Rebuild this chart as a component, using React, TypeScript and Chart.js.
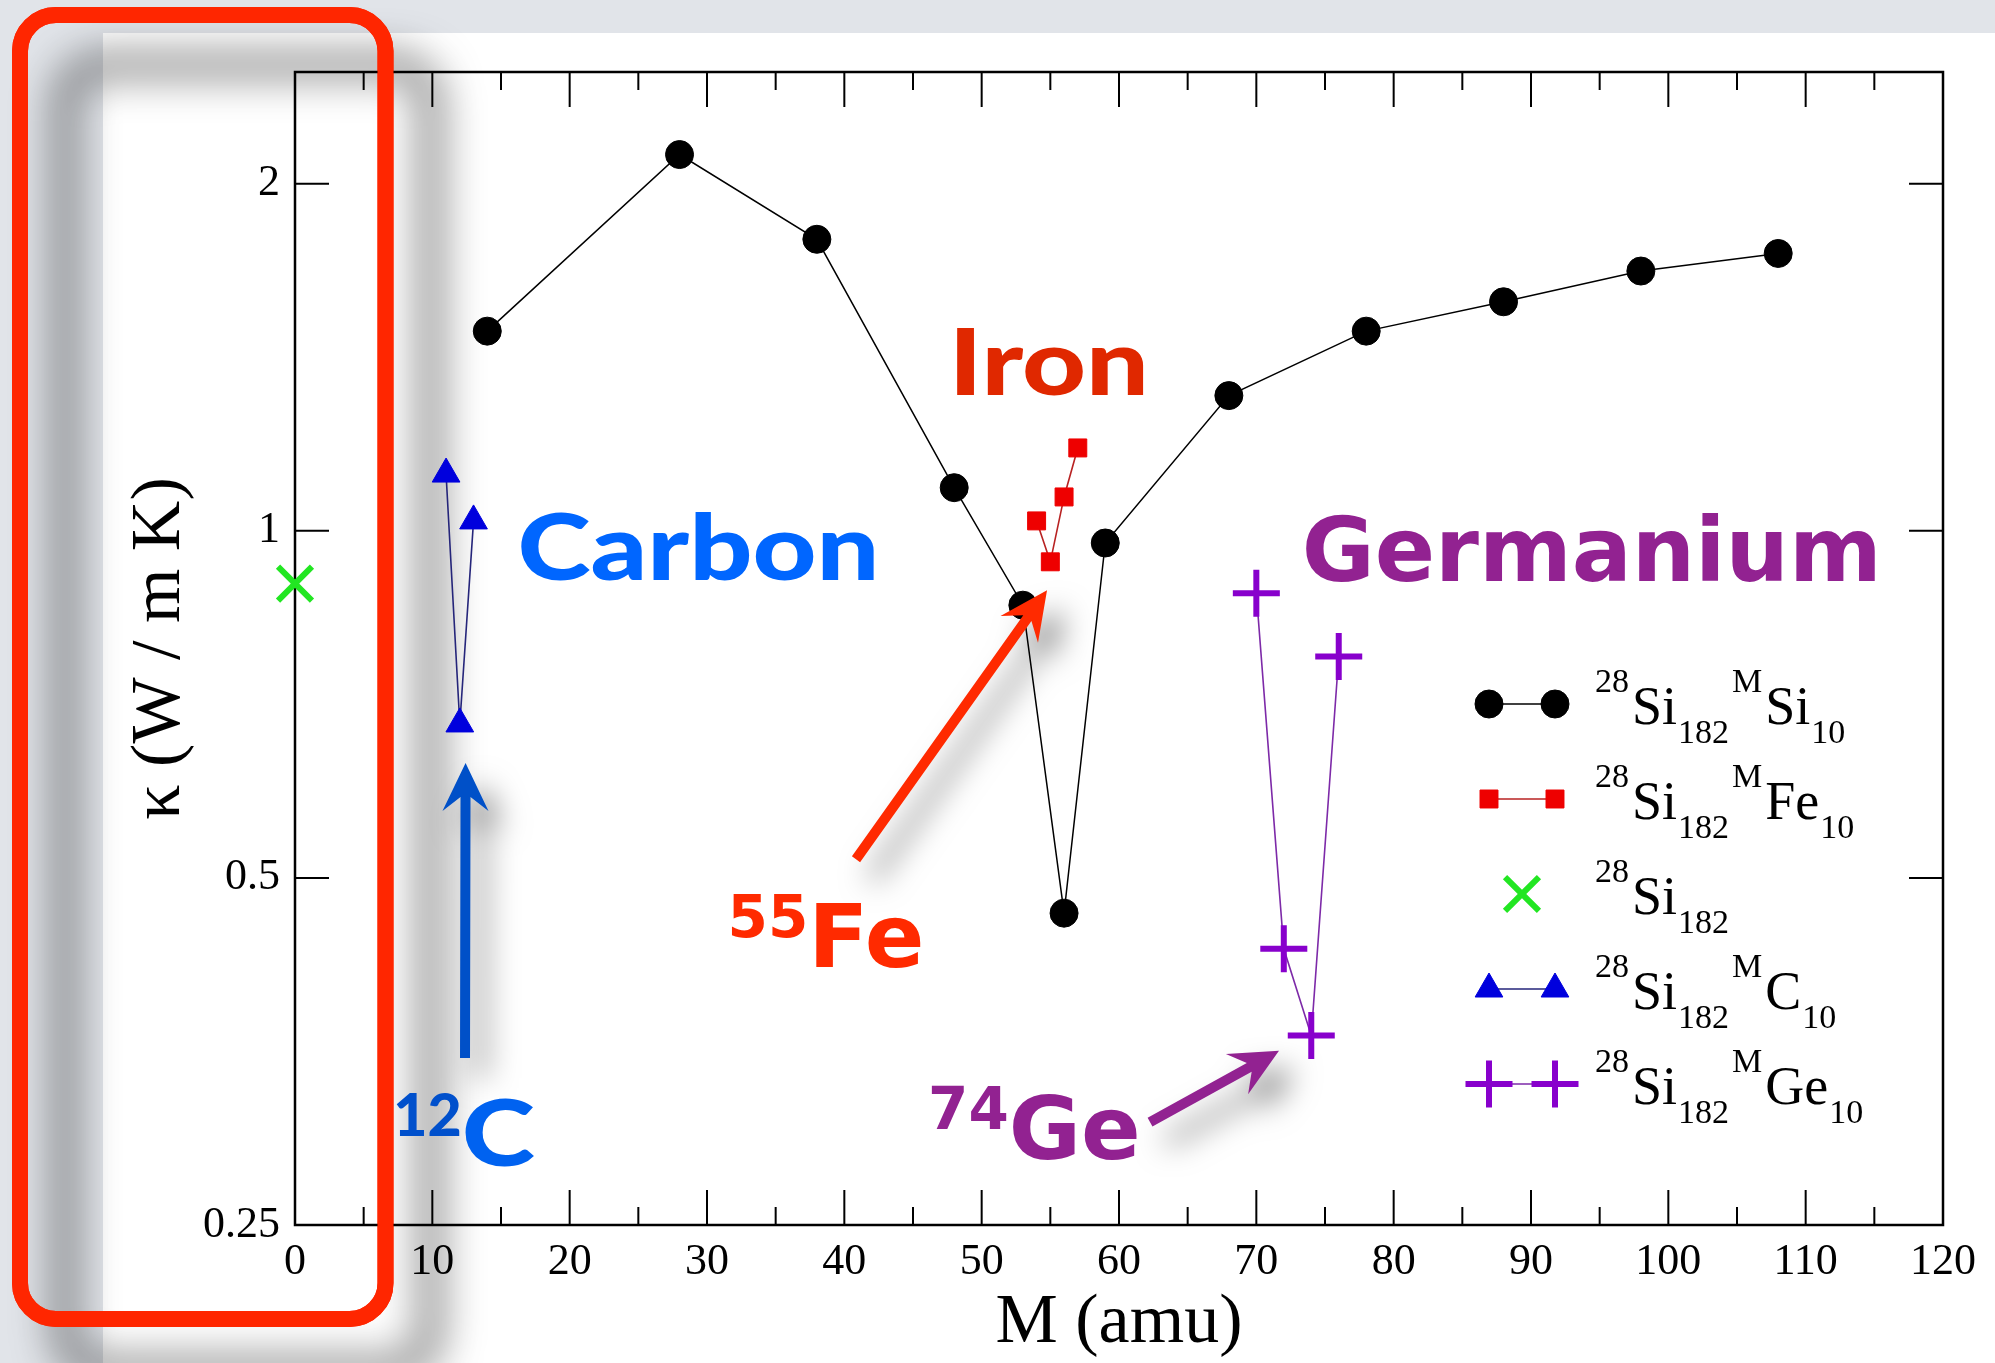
import React, { useEffect, useRef } from "react";
import { Chart, registerables } from "chart.js";

Chart.register(...registerables);

// ---------------- data ----------------
const siMass = [14, 28, 38, 48, 53, 56, 59, 68, 78, 88, 98, 108];
const siKappa = [1.49, 2.12, 1.79, 1.09, 0.862, 0.466, 0.976, 1.31, 1.49, 1.58, 1.68, 1.74];

const feMass = [54, 55, 56, 57];
const feKappa = [1.02, 0.94, 1.07, 1.18];

const pureMass = [0];
const pureKappa = [0.9];

const cMass = [11, 12, 13];
const cKappa = [1.12, 0.68, 1.02];

const geMass = [70, 72, 74, 76];
const geKappa = [0.883, 0.434, 0.365, 0.778];

const xMajorTicks = [0, 10, 20, 30, 40, 50, 60, 70, 80, 90, 100, 110, 120];
const xMinorTicks = [5, 15, 25, 35, 45, 55, 65, 75, 85, 95, 105, 115];
const yTicks = [0.25, 0.5, 1, 2];
const yTickLabels = ["0.25", "0.5", "1", "2"];

const legendLabels = [
  ["28", "Si", "182", "M", "Si", "10"],
  ["28", "Si", "182", "M", "Fe", "10"],
  ["28", "Si", "182"],
  ["28", "Si", "182", "M", "C", "10"],
  ["28", "Si", "182", "M", "Ge", "10"],
];

// ---------------- styles ----------------
const X_MIN = 0, X_MAX = 120, Y_MIN = 0.25, Y_MAX = 2.5;
const W = 1995, H = 1363;
const SERIF = '"Liberation Serif", "Times New Roman", serif';
const GILL = 'Lato, "Noto Sans", sans-serif';
const VERA = '"DejaVu Sans", sans-serif';

type SeriesStyle = {
  point: string; r: number; fill: string; stroke: string; pbw: number;
  line: string; lw: number; showLine: boolean;
};
const styles: SeriesStyle[] = [
  { point: "circle", r: 14, fill: "#000000", stroke: "#000000", pbw: 1, line: "#000000", lw: 1.5, showLine: true },
  { point: "rect", r: 12.7, fill: "#ee0000", stroke: "#ee0000", pbw: 1, line: "#b82222", lw: 1.6, showLine: true },
  { point: "crossRot", r: 24, fill: "#22e622", stroke: "#22e622", pbw: 6, line: "#22e622", lw: 0, showLine: false },
  { point: "triangle", r: 16, fill: "#0000dd", stroke: "#0000dd", pbw: 1, line: "#25257a", lw: 1.6, showLine: true },
  { point: "cross", r: 23.5, fill: "#8800cc", stroke: "#8800cc", pbw: 6, line: "#7d2aa8", lw: 1.6, showLine: true },
];

// annotations anchored in data coordinates (x in amu, y in W/mK)
const annotations = [
  { main: "Carbon", x: 16.2, y: 0.906, color: "#0066ff", family: GILL, weight: 900, size: 92, stretch: true },
  { main: "Iron", x: 47.6, y: 1.311, color: "#e02800", family: GILL, weight: 900, size: 92, stretch: true },
  { main: "Germanium", x: 73.3, y: 0.905, color: "#922291", family: VERA, weight: 700, size: 89 },
  { sup: "55", main: "Fe", x: 31.5, y: 0.4185, color: "#ff2a00", family: VERA, weight: 700, size: 88, supSize: 58 },
  { sup: "74", main: "Ge", x: 46.1, y: 0.2853, color: "#922291", family: VERA, weight: 700, size: 88, supSize: 58 },
  { sup: "12", main: "C", x: 7.15, y: 0.2813, color: "#0062f0", supColor: "#0050cc", family: GILL, weight: 900, size: 92, supSize: 59, stretch: true },
];
// reference width of the word "Carbon" used to widen the humanist sans to Gill Sans proportions
const GILL_CARBON_WIDTH = 362;

const arrows = [
  { from: [40.85, 0.519], to: [54.76, 0.888], color: "#ff2a00" },
  { from: [12.38, 0.349], to: [12.42, 0.629], color: "#0050c8" },
  { from: [62.26, 0.307], to: [71.65, 0.354], color: "#922291" },
];

function drawMarker(ctx: CanvasRenderingContext2D, s: SeriesStyle, x: number, y: number) {
  const r = s.r;
  ctx.save();
  ctx.fillStyle = s.fill;
  ctx.strokeStyle = s.stroke;
  ctx.lineWidth = s.pbw;
  ctx.beginPath();
  if (s.point === "circle") {
    ctx.arc(x, y, r, 0, Math.PI * 2);
    ctx.fill();
    ctx.stroke();
  } else if (s.point === "rect") {
    const h = r * Math.SQRT1_2;
    ctx.rect(x - h, y - h, 2 * h, 2 * h);
    ctx.fill();
    ctx.stroke();
  } else if (s.point === "triangle") {
    let a = 0;
    ctx.moveTo(x + Math.sin(a) * r, y - Math.cos(a) * r);
    a += (2 * Math.PI) / 3;
    ctx.lineTo(x + Math.sin(a) * r, y - Math.cos(a) * r);
    a += (2 * Math.PI) / 3;
    ctx.lineTo(x + Math.sin(a) * r, y - Math.cos(a) * r);
    ctx.closePath();
    ctx.fill();
    ctx.stroke();
  } else if (s.point === "cross") {
    ctx.moveTo(x, y - r); ctx.lineTo(x, y + r);
    ctx.moveTo(x - r, y); ctx.lineTo(x + r, y);
    ctx.stroke();
  } else if (s.point === "crossRot") {
    const o = r * Math.SQRT1_2;
    ctx.moveTo(x - o, y - o); ctx.lineTo(x + o, y + o);
    ctx.moveTo(x - o, y + o); ctx.lineTo(x + o, y - o);
    ctx.stroke();
  }
  ctx.restore();
}

function roundRectPath(ctx: CanvasRenderingContext2D, x: number, y: number, w: number, h: number, r: number) {
  ctx.beginPath();
  ctx.moveTo(x + r, y);
  ctx.lineTo(x + w - r, y);
  ctx.arcTo(x + w, y, x + w, y + r, r);
  ctx.lineTo(x + w, y + h - r);
  ctx.arcTo(x + w, y + h, x + w - r, y + h, r);
  ctx.lineTo(x + r, y + h);
  ctx.arcTo(x, y + h, x, y + h - r, r);
  ctx.lineTo(x, y + r);
  ctx.arcTo(x, y, x + r, y, r);
  ctx.closePath();
}

function arrowPath(ctx: CanvasRenderingContext2D, x1: number, y1: number, x2: number, y2: number) {
  const shaft = 5, headLen = 48, headHalf = 23, notch = 34;
  const dx = x2 - x1, dy = y2 - y1, L = Math.hypot(dx, dy);
  const ux = dx / L, uy = dy / L, px = -uy, py = ux;
  const nx = x2 - ux * notch, ny = y2 - uy * notch;
  const wx = x2 - ux * headLen, wy = y2 - uy * headLen;
  ctx.beginPath();
  ctx.moveTo(x1 + px * shaft, y1 + py * shaft);
  ctx.lineTo(nx + px * shaft, ny + py * shaft);
  ctx.lineTo(wx + px * headHalf, wy + py * headHalf);
  ctx.lineTo(x2, y2);
  ctx.lineTo(wx - px * headHalf, wy - py * headHalf);
  ctx.lineTo(nx - px * shaft, ny - py * shaft);
  ctx.lineTo(x1 - px * shaft, y1 - py * shaft);
  ctx.closePath();
}

// red highlight box (decoration, pixel geometry)
const BOX = { x: 20, y: 15, w: 365.5, h: 1304, r: 36, lw: 16, color: "#ff2600" };

const decorPlugin = {
  id: "decor",
  beforeDraw(chart: any) {
    const ctx: CanvasRenderingContext2D = chart.ctx;
    ctx.save();
    ctx.fillStyle = "#e1e4e9";
    ctx.fillRect(0, 0, chart.width, chart.height);
    ctx.fillStyle = "#ffffff";
    ctx.fillRect(103, 33, chart.width - 103, chart.height - 33);
    ctx.shadowColor = "rgba(0,0,0,0.75)";
    ctx.shadowBlur = 42;
    ctx.shadowOffsetX = 45;
    ctx.shadowOffsetY = 50;
    ctx.lineWidth = BOX.lw;
    ctx.strokeStyle = BOX.color;
    roundRectPath(ctx, BOX.x, BOX.y, BOX.w, BOX.h, BOX.r);
    ctx.stroke();
    ctx.restore();
  },
  beforeDatasetsDraw(chart: any) {
    const ctx: CanvasRenderingContext2D = chart.ctx;
    const ca = chart.chartArea;
    const xs = chart.scales.x, ys = chart.scales.y;
    ctx.save();
    ctx.strokeStyle = "#000";
    ctx.lineWidth = 2;
    ctx.beginPath();
    xMajorTicks.forEach((v) => {
      if (v === X_MIN || v === X_MAX) return;
      const p = xs.getPixelForValue(v);
      ctx.moveTo(p, ca.bottom); ctx.lineTo(p, ca.bottom - 35);
      ctx.moveTo(p, ca.top); ctx.lineTo(p, ca.top + 35);
    });
    xMinorTicks.forEach((v) => {
      const p = xs.getPixelForValue(v);
      ctx.moveTo(p, ca.bottom); ctx.lineTo(p, ca.bottom - 18);
      ctx.moveTo(p, ca.top); ctx.lineTo(p, ca.top + 18);
    });
    yTicks.forEach((v) => {
      if (v === Y_MIN) return;
      const p = ys.getPixelForValue(v);
      ctx.moveTo(ca.left, p); ctx.lineTo(ca.left + 34, p);
      ctx.moveTo(ca.right, p); ctx.lineTo(ca.right - 34, p);
    });
    ctx.stroke();
    ctx.lineWidth = 2.5;
    ctx.strokeRect(ca.left, ca.top, ca.right - ca.left, ca.bottom - ca.top);
    ctx.restore();
  },
  afterDatasetsDraw(chart: any) {
    const ctx: CanvasRenderingContext2D = chart.ctx;
    const ca = chart.chartArea;
    const xs = chart.scales.x, ys = chart.scales.y;

    // arrows with soft shadows
    arrows.forEach((a) => {
      ctx.save();
      ctx.shadowColor = "rgba(0,0,0,0.5)";
      ctx.shadowBlur = 30;
      ctx.shadowOffsetX = 16;
      ctx.shadowOffsetY = 20;
      ctx.fillStyle = a.color;
      arrowPath(
        ctx,
        xs.getPixelForValue(a.from[0]), ys.getPixelForValue(a.from[1]),
        xs.getPixelForValue(a.to[0]), ys.getPixelForValue(a.to[1])
      );
      ctx.fill();
      ctx.restore();
    });

    // horizontal stretch so the humanist sans matches the Gill Sans width
    ctx.save();
    ctx.font = `900 92px ${GILL}`;
    const gillStretch = GILL_CARBON_WIDTH / ctx.measureText("Carbon").width;
    ctx.restore();

    // big coloured labels
    annotations.forEach((t: any) => {
      const px = xs.getPixelForValue(t.x);
      const py = ys.getPixelForValue(t.y);
      const sx = t.stretch ? gillStretch : 1;
      ctx.save();
      ctx.textBaseline = "alphabetic";
      ctx.textAlign = "left";
      let cx = px;
      if (t.sup) {
        ctx.font = `${t.weight} ${t.supSize}px ${t.family}`;
        ctx.fillStyle = t.supColor || t.color;
        ctx.fillText(t.sup, cx, py - 30);
        cx += ctx.measureText(t.sup).width;
      }
      ctx.font = `${t.weight} ${t.size}px ${t.family}`;
      ctx.fillStyle = t.color;
      ctx.translate(cx, py);
      ctx.scale(sx, 1);
      ctx.fillText(t.main, 0, 0);
      ctx.restore();
    });

    // legend
    const lx1 = ca.right - 454, lx2 = ca.right - 388, tx = ca.right - 348;
    const row0 = ca.top + 632, dy = 95;
    legendLabels.forEach((parts, i) => {
      const cy = row0 + i * dy;
      const s = styles[i];
      if (s.showLine) {
        ctx.save();
        ctx.strokeStyle = s.line;
        ctx.lineWidth = s.lw;
        ctx.beginPath();
        ctx.moveTo(lx1, cy); ctx.lineTo(lx2, cy);
        ctx.stroke();
        ctx.restore();
        drawMarker(ctx, s, lx1, cy);
        drawMarker(ctx, s, lx2, cy);
      } else {
        drawMarker(ctx, s, (lx1 + lx2) / 2, cy);
      }
      ctx.save();
      ctx.fillStyle = "#000";
      ctx.textBaseline = "alphabetic";
      let x = tx;
      parts.forEach((p, k) => {
        const kind = k % 3;
        const size = kind === 1 ? 54 : 34;
        ctx.font = `${size}px ${SERIF}`;
        const by = kind === 0 ? cy - 12 : kind === 1 ? cy + 20 : cy + 39;
        ctx.fillText(p, x, by);
        x += ctx.measureText(p).width + (kind === 1 ? 1 : 3);
      });
      ctx.restore();
    });
  },
  afterDraw(chart: any) {
    const ctx: CanvasRenderingContext2D = chart.ctx;
    ctx.save();
    ctx.lineWidth = BOX.lw;
    ctx.strokeStyle = BOX.color;
    roundRectPath(ctx, BOX.x, BOX.y, BOX.w, BOX.h, BOX.r);
    ctx.stroke();
    ctx.restore();
  },
};

function makeDataset(label: string, xs: number[], ys: number[], s: SeriesStyle) {
  return {
    label,
    data: xs.map((m, i) => ({ x: m, y: ys[i] })),
    showLine: s.showLine,
    borderColor: s.line,
    borderWidth: s.lw,
    pointStyle: s.point,
    pointRadius: s.r,
    pointHoverRadius: s.r,
    pointBackgroundColor: s.fill,
    pointBorderColor: s.stroke,
    pointBorderWidth: s.pbw,
    pointHoverBorderWidth: s.pbw,
    tension: 0,
    clip: false,
  };
}

export default function App() {
  const ref = useRef<HTMLCanvasElement | null>(null);
  useEffect(() => {
    document.body.style.margin = "0";
    const canvas = ref.current;
    if (!canvas) return;
    const chart = new Chart(canvas, {
      type: "scatter",
      data: {
        datasets: [
          makeDataset("28Si182 MSi10", siMass, siKappa, styles[0]),
          makeDataset("28Si182 MFe10", feMass, feKappa, styles[1]),
          makeDataset("28Si182", pureMass, pureKappa, styles[2]),
          makeDataset("28Si182 MC10", cMass, cKappa, styles[3]),
          makeDataset("28Si182 MGe10", geMass, geKappa, styles[4]),
        ] as any,
      },
      options: {
        responsive: false,
        animation: false,
        devicePixelRatio: 1,
        events: [],
        layout: { padding: { left: 0, right: 52, top: 72, bottom: 0 } },
        plugins: {
          legend: { display: false },
          tooltip: { enabled: false },
          title: { display: false },
        },
        scales: {
          x: {
            type: "linear",
            position: "bottom",
            min: X_MIN,
            max: X_MAX,
            afterFit: (s: any) => { s.height = 138; },
            afterBuildTicks: (s: any) => { s.ticks = xMajorTicks.map((v) => ({ value: v })); },
            ticks: {
              autoSkip: false,
              maxRotation: 0,
              padding: 11,
              color: "#000",
              font: { family: SERIF, size: 44, lineHeight: 1.2 },
              callback: (v: any) => String(v),
            },
            grid: { display: false, drawTicks: false },
            border: { display: false },
            title: {
              display: true,
              text: "M (amu)",
              color: "#000",
              font: { family: SERIF, size: 70, lineHeight: 1 },
              padding: { top: 0, bottom: 4 },
            },
          },
          y: {
            type: "logarithmic",
            position: "left",
            min: Y_MIN,
            max: Y_MAX,
            afterFit: (s: any) => { s.width = 295; },
            afterBuildTicks: (s: any) => { s.ticks = yTicks.map((v) => ({ value: v })); },
            ticks: {
              autoSkip: false,
              padding: 15,
              color: "#000",
              font: { family: SERIF, size: 44, lineHeight: 1.2 },
              callback: (v: any) => {
                const i = yTicks.indexOf(Number(v));
                return i >= 0 ? yTickLabels[i] : "";
              },
            },
            grid: { display: false, drawTicks: false },
            border: { display: false },
            title: {
              display: true,
              text: "κ (W / m K)",
              color: "#000",
              font: { family: SERIF, size: 70, lineHeight: 1 },
              padding: { top: 126, bottom: 0 },
            },
          },
        },
      } as any,
      plugins: [decorPlugin as any],
    });
    const fonts = [
      `44px "Liberation Serif"`,
      `900 92px Lato`,
      `bold 88px "DejaVu Sans"`,
    ];
    if ((document as any).fonts && (document as any).fonts.load) {
      Promise.all(fonts.map((f) => (document as any).fonts.load(f)))
        .then(() => chart.update())
        .catch(() => {});
    }
    return () => chart.destroy();
  }, []);
  return (
    <div style={{ position: "absolute", left: 0, top: 0, width: W, height: H }}>
      <canvas ref={ref} width={W} height={H} style={{ display: "block", width: W, height: H }} />
    </div>
  );
}
